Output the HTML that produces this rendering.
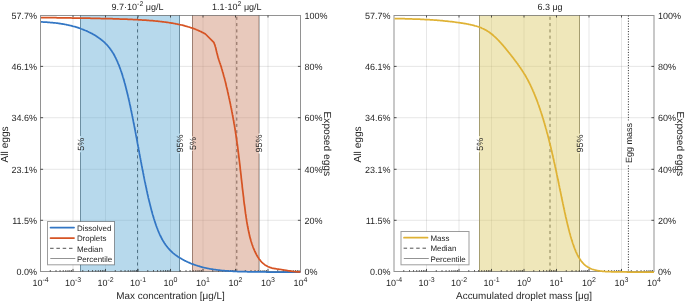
<!DOCTYPE html>
<html><head><meta charset="utf-8"><title>chart</title><style>
html,body{margin:0;padding:0;background:#fff;width:685px;height:302px;overflow:hidden}
svg{display:block;will-change:transform}
</style></head><body>
<svg width="685" height="302" viewBox="0 0 685 302">
<rect width="685" height="302" fill="#fff"/>
<g font-family='"Liberation Sans", sans-serif' fill="#262626" text-rendering="geometricPrecision">
<line x1="73.00" y1="15.50" x2="73.00" y2="271.50" stroke="#262626" stroke-width="1" stroke-opacity="0.11"/>
<line x1="105.50" y1="15.50" x2="105.50" y2="271.50" stroke="#262626" stroke-width="1" stroke-opacity="0.11"/>
<line x1="138.00" y1="15.50" x2="138.00" y2="271.50" stroke="#262626" stroke-width="1" stroke-opacity="0.11"/>
<line x1="170.50" y1="15.50" x2="170.50" y2="271.50" stroke="#262626" stroke-width="1" stroke-opacity="0.11"/>
<line x1="203.00" y1="15.50" x2="203.00" y2="271.50" stroke="#262626" stroke-width="1" stroke-opacity="0.11"/>
<line x1="235.50" y1="15.50" x2="235.50" y2="271.50" stroke="#262626" stroke-width="1" stroke-opacity="0.11"/>
<line x1="268.00" y1="15.50" x2="268.00" y2="271.50" stroke="#262626" stroke-width="1" stroke-opacity="0.11"/>
<line x1="40.5" y1="220.30" x2="300.5" y2="220.30" stroke="#262626" stroke-opacity="0.11" stroke-width="1"/>
<line x1="40.5" y1="169.30" x2="300.5" y2="169.30" stroke="#262626" stroke-opacity="0.11" stroke-width="1"/>
<line x1="40.5" y1="117.70" x2="300.5" y2="117.70" stroke="#262626" stroke-opacity="0.11" stroke-width="1"/>
<line x1="40.5" y1="66.40" x2="300.5" y2="66.40" stroke="#262626" stroke-opacity="0.11" stroke-width="1"/>
<line x1="80.50" y1="15.50" x2="80.50" y2="136.00" stroke="#787878" stroke-width="1"/>
<line x1="80.50" y1="152.30" x2="80.50" y2="271.50" stroke="#787878" stroke-width="1"/>
<line x1="179.50" y1="15.50" x2="179.50" y2="133.60" stroke="#787878" stroke-width="1"/>
<line x1="179.50" y1="153.50" x2="179.50" y2="271.50" stroke="#787878" stroke-width="1"/>
<line x1="192.50" y1="15.50" x2="192.50" y2="136.30" stroke="#787878" stroke-width="1"/>
<line x1="192.50" y1="150.90" x2="192.50" y2="271.50" stroke="#787878" stroke-width="1"/>
<line x1="259.00" y1="15.50" x2="259.00" y2="133.60" stroke="#787878" stroke-width="1"/>
<line x1="259.00" y1="153.50" x2="259.00" y2="271.50" stroke="#787878" stroke-width="1"/>
<line x1="137.50" y1="16.75" x2="137.50" y2="271.50" stroke="#262626" stroke-width="1" stroke-opacity="0.85" stroke-dasharray="3.1 3.2"/>
<line x1="236.80" y1="16.75" x2="236.80" y2="271.50" stroke="#262626" stroke-width="1" stroke-opacity="0.85" stroke-dasharray="3.1 3.2"/>
<rect x="80.00" y="15.50" width="100.00" height="256.00" fill="rgb(95,171,213)" fill-opacity="0.45"/>
<rect x="192.00" y="15.50" width="67.00" height="256.00" fill="rgb(204,135,106)" fill-opacity="0.45"/>
<text transform="translate(83.70,144.15) rotate(-90)" text-anchor="middle" font-size="9">5%</text>
<text transform="translate(182.70,143.55) rotate(-90)" text-anchor="middle" font-size="9">95%</text>
<text transform="translate(195.70,143.60) rotate(-90)" text-anchor="middle" font-size="9">5%</text>
<text transform="translate(262.20,143.55) rotate(-90)" text-anchor="middle" font-size="9">95%</text>
<rect x="40.5" y="15.5" width="260" height="256" fill="none" stroke="#262626" stroke-opacity="0.5" stroke-width="1"/>
<line x1="50.28" y1="271.50" x2="50.28" y2="270.10" stroke="#262626" stroke-width="0.8"/>
<line x1="56.01" y1="271.50" x2="56.01" y2="270.10" stroke="#262626" stroke-width="0.8"/>
<line x1="60.07" y1="271.50" x2="60.07" y2="270.10" stroke="#262626" stroke-width="0.8"/>
<line x1="63.22" y1="271.50" x2="63.22" y2="270.10" stroke="#262626" stroke-width="0.8"/>
<line x1="65.79" y1="271.50" x2="65.79" y2="270.10" stroke="#262626" stroke-width="0.8"/>
<line x1="67.97" y1="271.50" x2="67.97" y2="270.10" stroke="#262626" stroke-width="0.8"/>
<line x1="69.85" y1="271.50" x2="69.85" y2="270.10" stroke="#262626" stroke-width="0.8"/>
<line x1="71.51" y1="271.50" x2="71.51" y2="270.10" stroke="#262626" stroke-width="0.8"/>
<text x="40.50" y="286.3" text-anchor="middle" font-size="9">10<tspan dy="-4.7" font-size="7">-4</tspan></text>
<line x1="73.00" y1="271.50" x2="73.00" y2="268.90" stroke="#262626" stroke-width="0.8"/>
<line x1="73.00" y1="15.50" x2="73.00" y2="17.50" stroke="#262626" stroke-width="0.8"/>
<line x1="82.78" y1="271.50" x2="82.78" y2="270.10" stroke="#262626" stroke-width="0.8"/>
<line x1="88.51" y1="271.50" x2="88.51" y2="270.10" stroke="#262626" stroke-width="0.8"/>
<line x1="92.57" y1="271.50" x2="92.57" y2="270.10" stroke="#262626" stroke-width="0.8"/>
<line x1="95.72" y1="271.50" x2="95.72" y2="270.10" stroke="#262626" stroke-width="0.8"/>
<line x1="98.29" y1="271.50" x2="98.29" y2="270.10" stroke="#262626" stroke-width="0.8"/>
<line x1="100.47" y1="271.50" x2="100.47" y2="270.10" stroke="#262626" stroke-width="0.8"/>
<line x1="102.35" y1="271.50" x2="102.35" y2="270.10" stroke="#262626" stroke-width="0.8"/>
<line x1="104.01" y1="271.50" x2="104.01" y2="270.10" stroke="#262626" stroke-width="0.8"/>
<text x="73.00" y="286.3" text-anchor="middle" font-size="9">10<tspan dy="-4.7" font-size="7">-3</tspan></text>
<line x1="105.50" y1="271.50" x2="105.50" y2="268.90" stroke="#262626" stroke-width="0.8"/>
<line x1="105.50" y1="15.50" x2="105.50" y2="17.50" stroke="#262626" stroke-width="0.8"/>
<line x1="115.28" y1="271.50" x2="115.28" y2="270.10" stroke="#262626" stroke-width="0.8"/>
<line x1="121.01" y1="271.50" x2="121.01" y2="270.10" stroke="#262626" stroke-width="0.8"/>
<line x1="125.07" y1="271.50" x2="125.07" y2="270.10" stroke="#262626" stroke-width="0.8"/>
<line x1="128.22" y1="271.50" x2="128.22" y2="270.10" stroke="#262626" stroke-width="0.8"/>
<line x1="130.79" y1="271.50" x2="130.79" y2="270.10" stroke="#262626" stroke-width="0.8"/>
<line x1="132.97" y1="271.50" x2="132.97" y2="270.10" stroke="#262626" stroke-width="0.8"/>
<line x1="134.85" y1="271.50" x2="134.85" y2="270.10" stroke="#262626" stroke-width="0.8"/>
<line x1="136.51" y1="271.50" x2="136.51" y2="270.10" stroke="#262626" stroke-width="0.8"/>
<text x="105.50" y="286.3" text-anchor="middle" font-size="9">10<tspan dy="-4.7" font-size="7">-2</tspan></text>
<line x1="138.00" y1="271.50" x2="138.00" y2="268.90" stroke="#262626" stroke-width="0.8"/>
<line x1="138.00" y1="15.50" x2="138.00" y2="17.50" stroke="#262626" stroke-width="0.8"/>
<line x1="147.78" y1="271.50" x2="147.78" y2="270.10" stroke="#262626" stroke-width="0.8"/>
<line x1="153.51" y1="271.50" x2="153.51" y2="270.10" stroke="#262626" stroke-width="0.8"/>
<line x1="157.57" y1="271.50" x2="157.57" y2="270.10" stroke="#262626" stroke-width="0.8"/>
<line x1="160.72" y1="271.50" x2="160.72" y2="270.10" stroke="#262626" stroke-width="0.8"/>
<line x1="163.29" y1="271.50" x2="163.29" y2="270.10" stroke="#262626" stroke-width="0.8"/>
<line x1="165.47" y1="271.50" x2="165.47" y2="270.10" stroke="#262626" stroke-width="0.8"/>
<line x1="167.35" y1="271.50" x2="167.35" y2="270.10" stroke="#262626" stroke-width="0.8"/>
<line x1="169.01" y1="271.50" x2="169.01" y2="270.10" stroke="#262626" stroke-width="0.8"/>
<text x="138.00" y="286.3" text-anchor="middle" font-size="9">10<tspan dy="-4.7" font-size="7">-1</tspan></text>
<line x1="170.50" y1="271.50" x2="170.50" y2="268.90" stroke="#262626" stroke-width="0.8"/>
<line x1="170.50" y1="15.50" x2="170.50" y2="17.50" stroke="#262626" stroke-width="0.8"/>
<line x1="180.28" y1="271.50" x2="180.28" y2="270.10" stroke="#262626" stroke-width="0.8"/>
<line x1="186.01" y1="271.50" x2="186.01" y2="270.10" stroke="#262626" stroke-width="0.8"/>
<line x1="190.07" y1="271.50" x2="190.07" y2="270.10" stroke="#262626" stroke-width="0.8"/>
<line x1="193.22" y1="271.50" x2="193.22" y2="270.10" stroke="#262626" stroke-width="0.8"/>
<line x1="195.79" y1="271.50" x2="195.79" y2="270.10" stroke="#262626" stroke-width="0.8"/>
<line x1="197.97" y1="271.50" x2="197.97" y2="270.10" stroke="#262626" stroke-width="0.8"/>
<line x1="199.85" y1="271.50" x2="199.85" y2="270.10" stroke="#262626" stroke-width="0.8"/>
<line x1="201.51" y1="271.50" x2="201.51" y2="270.10" stroke="#262626" stroke-width="0.8"/>
<text x="170.50" y="286.3" text-anchor="middle" font-size="9">10<tspan dy="-4.7" font-size="7">0</tspan></text>
<line x1="203.00" y1="271.50" x2="203.00" y2="268.90" stroke="#262626" stroke-width="0.8"/>
<line x1="203.00" y1="15.50" x2="203.00" y2="17.50" stroke="#262626" stroke-width="0.8"/>
<line x1="212.78" y1="271.50" x2="212.78" y2="270.10" stroke="#262626" stroke-width="0.8"/>
<line x1="218.51" y1="271.50" x2="218.51" y2="270.10" stroke="#262626" stroke-width="0.8"/>
<line x1="222.57" y1="271.50" x2="222.57" y2="270.10" stroke="#262626" stroke-width="0.8"/>
<line x1="225.72" y1="271.50" x2="225.72" y2="270.10" stroke="#262626" stroke-width="0.8"/>
<line x1="228.29" y1="271.50" x2="228.29" y2="270.10" stroke="#262626" stroke-width="0.8"/>
<line x1="230.47" y1="271.50" x2="230.47" y2="270.10" stroke="#262626" stroke-width="0.8"/>
<line x1="232.35" y1="271.50" x2="232.35" y2="270.10" stroke="#262626" stroke-width="0.8"/>
<line x1="234.01" y1="271.50" x2="234.01" y2="270.10" stroke="#262626" stroke-width="0.8"/>
<text x="203.00" y="286.3" text-anchor="middle" font-size="9">10<tspan dy="-4.7" font-size="7">1</tspan></text>
<line x1="235.50" y1="271.50" x2="235.50" y2="268.90" stroke="#262626" stroke-width="0.8"/>
<line x1="235.50" y1="15.50" x2="235.50" y2="17.50" stroke="#262626" stroke-width="0.8"/>
<line x1="245.28" y1="271.50" x2="245.28" y2="270.10" stroke="#262626" stroke-width="0.8"/>
<line x1="251.01" y1="271.50" x2="251.01" y2="270.10" stroke="#262626" stroke-width="0.8"/>
<line x1="255.07" y1="271.50" x2="255.07" y2="270.10" stroke="#262626" stroke-width="0.8"/>
<line x1="258.22" y1="271.50" x2="258.22" y2="270.10" stroke="#262626" stroke-width="0.8"/>
<line x1="260.79" y1="271.50" x2="260.79" y2="270.10" stroke="#262626" stroke-width="0.8"/>
<line x1="262.97" y1="271.50" x2="262.97" y2="270.10" stroke="#262626" stroke-width="0.8"/>
<line x1="264.85" y1="271.50" x2="264.85" y2="270.10" stroke="#262626" stroke-width="0.8"/>
<line x1="266.51" y1="271.50" x2="266.51" y2="270.10" stroke="#262626" stroke-width="0.8"/>
<text x="235.50" y="286.3" text-anchor="middle" font-size="9">10<tspan dy="-4.7" font-size="7">2</tspan></text>
<line x1="268.00" y1="271.50" x2="268.00" y2="268.90" stroke="#262626" stroke-width="0.8"/>
<line x1="268.00" y1="15.50" x2="268.00" y2="17.50" stroke="#262626" stroke-width="0.8"/>
<line x1="277.78" y1="271.50" x2="277.78" y2="270.10" stroke="#262626" stroke-width="0.8"/>
<line x1="283.51" y1="271.50" x2="283.51" y2="270.10" stroke="#262626" stroke-width="0.8"/>
<line x1="287.57" y1="271.50" x2="287.57" y2="270.10" stroke="#262626" stroke-width="0.8"/>
<line x1="290.72" y1="271.50" x2="290.72" y2="270.10" stroke="#262626" stroke-width="0.8"/>
<line x1="293.29" y1="271.50" x2="293.29" y2="270.10" stroke="#262626" stroke-width="0.8"/>
<line x1="295.47" y1="271.50" x2="295.47" y2="270.10" stroke="#262626" stroke-width="0.8"/>
<line x1="297.35" y1="271.50" x2="297.35" y2="270.10" stroke="#262626" stroke-width="0.8"/>
<line x1="299.01" y1="271.50" x2="299.01" y2="270.10" stroke="#262626" stroke-width="0.8"/>
<text x="268.00" y="286.3" text-anchor="middle" font-size="9">10<tspan dy="-4.7" font-size="7">3</tspan></text>
<text x="300.50" y="286.3" text-anchor="middle" font-size="9">10<tspan dy="-4.7" font-size="7">4</tspan></text>
<text x="37.00" y="274.70" text-anchor="end" font-size="9">0.0%</text>
<text x="304.50" y="274.70" text-anchor="start" font-size="9">0%</text>
<line x1="40.5" y1="220.30" x2="43.1" y2="220.30" stroke="#262626" stroke-width="0.8"/>
<line x1="300.5" y1="220.30" x2="297.9" y2="220.30" stroke="#262626" stroke-width="0.8"/>
<text x="37.00" y="223.50" text-anchor="end" font-size="9">11.5%</text>
<text x="304.50" y="223.50" text-anchor="start" font-size="9">20%</text>
<line x1="40.5" y1="169.30" x2="43.1" y2="169.30" stroke="#262626" stroke-width="0.8"/>
<line x1="300.5" y1="169.30" x2="297.9" y2="169.30" stroke="#262626" stroke-width="0.8"/>
<text x="37.00" y="172.50" text-anchor="end" font-size="9">23.1%</text>
<text x="304.50" y="172.50" text-anchor="start" font-size="9">40%</text>
<line x1="40.5" y1="117.70" x2="43.1" y2="117.70" stroke="#262626" stroke-width="0.8"/>
<line x1="300.5" y1="117.70" x2="297.9" y2="117.70" stroke="#262626" stroke-width="0.8"/>
<text x="37.00" y="120.90" text-anchor="end" font-size="9">34.6%</text>
<text x="304.50" y="120.90" text-anchor="start" font-size="9">60%</text>
<line x1="40.5" y1="66.40" x2="43.1" y2="66.40" stroke="#262626" stroke-width="0.8"/>
<line x1="300.5" y1="66.40" x2="297.9" y2="66.40" stroke="#262626" stroke-width="0.8"/>
<text x="37.00" y="69.60" text-anchor="end" font-size="9">46.1%</text>
<text x="304.50" y="69.60" text-anchor="start" font-size="9">80%</text>
<text x="37.00" y="18.70" text-anchor="end" font-size="9">57.7%</text>
<text x="304.50" y="18.70" text-anchor="start" font-size="9">100%</text>
<clipPath id="clip40"><rect x="41.0" y="12.5" width="259.5" height="262"/></clipPath>
<g clip-path="url(#clip40)">
<path d="M40.5,21.8 41.3,21.9 42.1,21.9 42.9,22.0 43.7,22.0 44.5,22.1 45.3,22.1 46.1,22.2 46.9,22.2 47.8,22.3 48.6,22.3 49.4,22.4 50.2,22.5 51.0,22.5 51.8,22.6 52.6,22.7 53.4,22.8 54.2,22.9 55.0,22.9 55.8,23.0 56.6,23.1 57.4,23.2 58.2,23.3 59.0,23.4 59.8,23.6 60.6,23.7 61.4,23.8 62.2,23.9 63.0,24.1 63.8,24.2 64.6,24.3 65.4,24.5 66.2,24.6 67.0,24.8 67.7,25.0 68.5,25.1 69.3,25.3 70.1,25.5 70.9,25.7 71.7,25.9 72.5,26.1 73.2,26.3 74.0,26.5 74.8,26.7 75.6,26.9 76.3,27.2 77.1,27.4 77.9,27.6 78.6,27.9 79.4,28.2 80.2,28.4 80.9,28.7 81.7,29.0 82.4,29.3 83.2,29.6 83.9,29.9 84.7,30.2 85.4,30.5 86.2,30.8 86.9,31.1 87.6,31.5 88.4,31.8 89.1,32.2 89.8,32.5 90.5,32.9 91.3,33.3 92.0,33.6 92.7,34.0 93.4,34.4 94.1,34.8 94.8,35.2 95.5,35.6 96.1,36.1 96.8,36.5 97.5,37.0 98.2,37.4 98.8,37.9 99.5,38.3 100.1,38.8 100.8,39.3 101.4,39.8 102.0,40.3 102.7,40.8 103.3,41.4 103.9,41.9 104.5,42.4 105.1,43.0 105.6,43.6 106.2,44.1 106.8,44.7 107.3,45.3 107.8,45.9 108.4,46.5 108.9,47.2 109.4,47.8 109.9,48.5 110.4,49.1 110.8,49.7 111.3,50.4 111.8,51.1 112.2,51.8 112.6,52.4 113.1,53.1 113.5,53.8 113.9,54.5 114.3,55.3 114.7,56.0 115.0,56.7 115.4,57.4 115.8,58.2 116.1,58.9 116.5,59.6 116.8,60.4 117.2,61.1 117.5,61.8 117.8,62.6 118.1,63.3 118.4,64.1 118.8,64.9 119.1,65.6 119.4,66.4 119.6,67.1 119.9,67.9 120.2,68.7 120.5,69.5 120.8,70.2 121.0,71.0 121.3,71.8 121.6,72.6 121.8,73.4 122.1,74.1 122.3,74.9 122.6,75.7 122.8,76.5 123.0,77.2 123.3,78.0 123.5,78.8 123.7,79.6 124.0,80.4 124.2,81.2 124.4,82.0 124.6,82.8 124.9,83.6 125.1,84.4 125.3,85.2 125.5,86.0 125.7,86.8 125.9,87.6 126.1,88.4 126.3,89.2 126.5,90.0 126.7,90.8 126.9,91.6 127.1,92.4 127.3,93.2 127.5,94.0 127.7,94.8 127.9,95.6 128.1,96.5 128.3,97.3 128.5,98.0 128.6,98.8 128.8,99.6 129.0,100.4 129.2,101.3 129.4,102.1 129.6,102.9 129.7,103.7 129.9,104.6 130.1,105.4 130.3,106.2 130.4,107.0 130.6,107.8 130.8,108.6 130.9,109.4 131.1,110.2 131.3,111.0 131.4,111.8 131.6,112.6 131.8,113.5 132.0,114.3 132.1,115.1 132.3,116.0 132.5,116.8 132.6,117.6 132.8,118.5 133.0,119.3 133.1,120.1 133.3,120.9 133.4,121.7 133.6,122.5 133.7,123.3 133.9,124.1 134.1,124.9 134.2,125.7 134.4,126.5 134.5,127.3 134.7,128.1 134.8,129.0 135.0,129.8 135.2,130.6 135.3,131.4 135.5,132.2 135.6,133.1 135.8,133.9 135.9,134.7 136.1,135.5 136.2,136.4 136.4,137.2 136.6,138.0 136.7,138.8 136.9,139.7 137.0,140.5 137.2,141.3 137.3,142.2 137.5,143.0 137.6,143.9 137.8,144.7 138.0,145.5 138.1,146.4 138.3,147.2 138.4,148.0 138.6,148.9 138.7,149.7 138.9,150.5 139.1,151.4 139.2,152.2 139.4,153.1 139.5,153.9 139.7,154.7 139.8,155.6 140.0,156.4 140.1,157.2 140.3,158.1 140.5,158.9 140.6,159.7 140.8,160.5 140.9,161.4 141.1,162.2 141.2,163.0 141.4,163.8 141.5,164.6 141.7,165.5 141.9,166.3 142.0,167.1 142.2,167.9 142.3,168.7 142.5,169.5 142.6,170.3 142.8,171.1 143.0,171.9 143.1,172.7 143.3,173.5 143.4,174.3 143.6,175.1 143.7,175.9 143.9,176.7 144.1,177.6 144.2,178.4 144.4,179.3 144.6,180.1 144.7,180.9 144.9,181.8 145.1,182.6 145.3,183.4 145.4,184.2 145.6,185.0 145.8,185.8 145.9,186.6 146.1,187.4 146.3,188.2 146.4,189.0 146.6,189.8 146.8,190.7 147.0,191.5 147.2,192.3 147.3,193.1 147.5,194.0 147.7,194.8 147.9,195.6 148.1,196.4 148.2,197.2 148.4,198.0 148.6,198.7 148.8,199.6 149.0,200.4 149.2,201.2 149.4,202.0 149.6,202.8 149.8,203.6 150.0,204.4 150.2,205.2 150.4,206.0 150.6,206.8 150.8,207.6 151.0,208.4 151.2,209.2 151.4,210.0 151.6,210.8 151.8,211.6 152.1,212.4 152.3,213.2 152.5,214.0 152.7,214.7 153.0,215.6 153.2,216.3 153.4,217.1 153.7,217.9 153.9,218.7 154.2,219.5 154.4,220.3 154.7,221.1 154.9,221.9 155.2,222.6 155.4,223.4 155.7,224.2 156.0,225.0 156.2,225.7 156.5,226.5 156.8,227.3 157.1,228.0 157.4,228.8 157.7,229.6 158.0,230.3 158.3,231.1 158.6,231.8 158.9,232.6 159.3,233.3 159.6,234.1 159.9,234.8 160.3,235.6 160.6,236.3 161.0,237.0 161.4,237.7 161.7,238.5 162.1,239.2 162.5,239.9 162.9,240.6 163.3,241.3 163.8,242.0 164.2,242.7 164.6,243.3 165.1,244.0 165.5,244.7 166.0,245.3 166.5,246.0 167.0,246.6 167.5,247.3 168.0,247.9 168.6,248.5 169.1,249.1 169.6,249.7 170.2,250.3 170.8,250.9 171.3,251.4 171.9,252.0 172.5,252.5 173.1,253.1 173.8,253.6 174.4,254.1 175.0,254.6 175.7,255.1 176.3,255.6 177.0,256.0 177.7,256.5 178.3,256.9 179.0,257.4 179.7,257.8 180.4,258.2 181.1,258.6 181.8,259.0 182.5,259.4 183.2,259.8 183.9,260.2 184.6,260.6 185.3,260.9 186.1,261.3 186.8,261.6 187.5,262.0 188.3,262.3 189.0,262.6 189.7,262.9 190.5,263.3 191.2,263.6 192.0,263.9 192.7,264.1 193.5,264.4 194.3,264.7 195.0,265.0 195.8,265.2 196.6,265.5 197.3,265.7 198.1,266.0 198.9,266.2 199.6,266.4 200.4,266.7 201.2,266.9 202.0,267.1 202.8,267.3 203.5,267.5 204.3,267.7 205.1,267.8 205.9,268.0 206.7,268.2 207.5,268.3 208.3,268.5 209.1,268.7 209.9,268.8 210.6,269.0 211.4,269.1 212.2,269.2 213.0,269.3 213.8,269.5 214.6,269.6 215.4,269.7 216.2,269.8 217.0,269.9 217.8,270.0 218.6,270.1 219.4,270.2 220.2,270.3 221.0,270.4 221.8,270.5 222.6,270.5 223.4,270.6 224.3,270.7 225.1,270.8 225.9,270.8 226.7,270.9 227.5,270.9 228.3,271.0 229.1,271.1 229.9,271.1 230.7,271.2 231.5,271.2 232.3,271.2 233.1,271.3 233.9,271.3 234.7,271.4 235.5,271.4 236.3,271.4 237.2,271.5 238.0,271.5 238.8,271.5 239.6,271.6 240.4,271.6 241.2,271.6 242.0,271.6 242.8,271.6 243.6,271.7 244.4,271.7 245.2,271.7 246.0,271.7 246.8,271.7 247.6,271.8 248.4,271.8 249.2,271.8 250.0,271.8 250.9,271.8 251.7,271.8 252.5,271.8 253.3,271.8 254.1,271.9 254.9,271.9 255.7,271.9 256.5,271.9 257.3,271.9 258.1,271.9 258.9,271.9 259.7,271.9 260.5,271.9 261.3,271.9 262.1,271.9 262.9,271.9 263.7,271.9 264.6,271.9 265.4,271.9 266.2,272.0 267.0,272.0 267.8,272.0 268.6,272.0 269.4,272.0 270.2,272.0 271.0,272.0 271.8,272.0 272.6,272.0 273.4,272.0 274.2,272.0 275.0,272.0 275.8,272.0 276.6,272.0 277.5,272.0 278.3,272.0 279.1,272.0 279.9,272.0 280.7,272.0 281.5,272.0 282.3,272.0 283.1,272.0 283.9,272.0 284.7,272.0 285.5,272.0 286.3,272.0 287.1,272.0 287.9,272.0 288.7,272.0 289.5,272.0 290.3,272.0 291.2,272.0 292.0,272.0 292.8,272.0 293.6,272.0 294.4,272.0 295.2,272.0 296.0,272.0 296.8,272.0 297.6,272.0 298.4,272.0 299.2,272.0 300.0,272.0 300.5,272.0" fill="none" stroke="rgb(50,118,196)" stroke-width="1.75" stroke-linejoin="round" stroke-linecap="round"/>
<path d="M40.5,17.6 41.3,17.6 42.1,17.6 43.0,17.6 43.8,17.6 44.6,17.6 45.4,17.6 46.3,17.6 47.1,17.6 47.9,17.6 48.7,17.7 49.6,17.7 50.4,17.7 51.2,17.7 52.0,17.7 52.9,17.7 53.7,17.7 54.5,17.7 55.3,17.7 56.2,17.7 57.0,17.8 57.8,17.8 58.6,17.8 59.5,17.8 60.3,17.8 61.1,17.8 61.9,17.8 62.8,17.8 63.6,17.8 64.4,17.9 65.2,17.9 66.1,17.9 66.9,17.9 67.7,17.9 68.5,17.9 69.4,17.9 70.2,17.9 71.0,17.9 71.8,18.0 72.7,18.0 73.5,18.0 74.3,18.0 75.1,18.0 76.0,18.0 76.8,18.0 77.6,18.0 78.4,18.1 79.3,18.1 80.1,18.1 80.9,18.1 81.7,18.1 82.6,18.1 83.4,18.1 84.2,18.1 85.0,18.2 85.9,18.2 86.7,18.2 87.5,18.2 88.3,18.2 89.2,18.2 90.0,18.2 90.8,18.3 91.6,18.3 92.5,18.3 93.3,18.3 94.1,18.3 94.9,18.3 95.8,18.4 96.6,18.4 97.4,18.4 98.2,18.4 99.1,18.4 99.9,18.4 100.7,18.5 101.5,18.5 102.4,18.5 103.2,18.5 104.0,18.5 104.8,18.5 105.7,18.6 106.5,18.6 107.3,18.6 108.1,18.6 109.0,18.6 109.8,18.7 110.6,18.7 111.4,18.7 112.3,18.7 113.1,18.8 113.9,18.8 114.7,18.8 115.6,18.8 116.4,18.9 117.2,18.9 118.0,18.9 118.9,18.9 119.7,19.0 120.5,19.0 121.3,19.0 122.2,19.0 123.0,19.1 123.8,19.1 124.6,19.1 125.5,19.2 126.3,19.2 127.1,19.2 127.9,19.3 128.8,19.3 129.6,19.3 130.4,19.4 131.2,19.4 132.1,19.4 132.9,19.5 133.7,19.5 134.5,19.6 135.4,19.6 136.2,19.6 137.0,19.7 137.8,19.7 138.7,19.8 139.5,19.8 140.3,19.9 141.1,19.9 142.0,20.0 142.8,20.0 143.6,20.1 144.4,20.1 145.3,20.2 146.1,20.2 146.9,20.3 147.7,20.4 148.6,20.4 149.4,20.5 150.2,20.5 151.0,20.6 151.9,20.7 152.7,20.7 153.5,20.8 154.3,20.9 155.2,21.0 156.0,21.1 156.8,21.1 157.6,21.2 158.5,21.3 159.3,21.4 160.1,21.5 160.9,21.6 161.8,21.7 162.6,21.8 163.4,21.9 164.2,22.0 165.1,22.1 165.9,22.2 166.7,22.3 167.5,22.4 168.4,22.5 169.2,22.7 170.0,22.8 170.8,22.9 171.7,23.1 172.5,23.2 173.3,23.3 174.1,23.5 175.0,23.6 175.8,23.8 176.6,24.0 177.4,24.1 178.3,24.3 179.1,24.5 179.9,24.7 180.7,24.8 181.6,25.0 182.4,25.2 183.2,25.4 184.0,25.6 184.9,25.9 185.7,26.1 186.5,26.3 187.3,26.5 188.2,26.8 189.0,27.0 189.8,27.3 190.6,27.6 191.5,27.8 192.3,28.1 193.1,28.4 193.9,28.7 194.8,29.0 195.6,29.3 196.4,29.7 197.2,30.0 197.9,30.3 198.6,30.6 199.4,30.9 200.1,31.3 200.9,31.6 201.6,32.0 202.3,32.4 203.1,32.7 203.8,33.1 204.6,33.5 205.3,33.9 205.4,34.0 213.8,42.4 214.1,43.1 214.4,43.9 214.7,44.6 215.0,45.4 215.2,46.2 215.4,47.0 215.7,47.7 215.9,48.5 216.0,49.3 216.2,50.1 216.4,50.9 216.6,51.7 216.8,52.5 217.0,53.2 217.2,54.0 217.4,54.8 217.6,55.6 217.8,56.4 218.0,57.2 218.2,57.9 218.5,58.7 218.7,59.5 219.0,60.2 219.2,61.0 219.5,61.8 219.7,62.5 220.0,63.3 220.3,64.1 220.5,64.8 220.8,65.6 221.0,66.4 221.3,67.1 221.5,67.9 221.7,68.7 222.0,69.5 222.2,70.2 222.4,71.0 222.6,71.8 222.9,72.6 223.1,73.3 223.3,74.1 223.5,74.9 223.7,75.7 223.9,76.5 224.2,77.2 224.4,78.0 224.6,78.8 224.8,79.6 225.0,80.4 225.2,81.1 225.4,81.9 225.6,82.7 225.8,83.5 226.0,84.3 226.1,85.1 226.3,85.9 226.5,86.7 226.7,87.4 226.9,88.2 227.1,89.0 227.3,89.8 227.5,90.6 227.6,91.4 227.8,92.2 228.0,93.0 228.2,93.8 228.3,94.6 228.5,95.4 228.7,96.1 228.9,96.9 229.0,97.7 229.2,98.5 229.4,99.3 229.6,100.1 229.7,100.9 229.9,101.7 230.1,102.5 230.2,103.3 230.4,104.1 230.6,104.9 230.7,105.7 230.9,106.4 231.0,107.2 231.2,108.0 231.4,108.8 231.5,109.6 231.7,110.4 231.8,111.2 232.0,112.0 232.1,112.8 232.3,113.6 232.4,114.4 232.6,115.2 232.7,116.0 232.9,116.8 233.0,117.6 233.2,118.4 233.3,119.2 233.5,120.0 233.6,120.8 233.8,121.6 233.9,122.4 234.0,123.2 234.2,124.0 234.3,124.8 234.5,125.6 234.6,126.4 234.7,127.2 234.9,128.0 235.0,128.8 235.1,129.6 235.2,130.4 235.4,131.2 235.5,132.0 235.6,132.8 235.7,133.6 235.9,134.4 236.0,135.2 236.1,136.1 236.2,136.9 236.3,137.7 236.5,138.5 236.6,139.3 236.7,140.1 236.8,140.9 236.9,141.7 237.0,142.5 237.1,143.4 237.3,144.1 237.4,145.0 237.5,145.8 237.6,146.6 237.7,147.4 237.8,148.2 237.9,149.0 238.0,149.8 238.1,150.6 238.2,151.4 238.3,152.3 238.4,153.1 238.5,153.9 238.6,154.7 238.7,155.5 238.8,156.3 238.9,157.1 239.0,157.9 239.1,158.7 239.2,159.5 239.3,160.3 239.4,161.1 239.5,162.0 239.6,162.8 239.7,163.6 239.8,164.4 239.9,165.2 240.0,166.1 240.1,166.9 240.2,167.7 240.2,168.5 240.3,169.3 240.4,170.1 240.5,170.9 240.6,171.7 240.7,172.5 240.8,173.3 240.9,174.1 241.0,175.0 241.1,175.8 241.2,176.6 241.2,177.4 241.3,178.2 241.4,179.0 241.5,179.8 241.6,180.7 241.7,181.5 241.8,182.3 241.9,183.1 242.0,183.9 242.1,184.7 242.2,185.5 242.2,186.3 242.3,187.2 242.4,188.0 242.5,188.8 242.6,189.6 242.7,190.4 242.8,191.2 242.9,192.0 243.0,192.8 243.1,193.6 243.2,194.5 243.3,195.3 243.4,196.1 243.5,196.9 243.6,197.7 243.7,198.5 243.7,199.3 243.8,200.1 243.9,201.0 244.0,201.8 244.1,202.6 244.2,203.4 244.3,204.2 244.4,205.0 244.6,205.8 244.7,206.6 244.8,207.4 244.9,208.2 245.0,209.1 245.1,209.9 245.2,210.7 245.3,211.5 245.4,212.3 245.5,213.1 245.6,213.9 245.8,214.7 245.9,215.5 246.0,216.3 246.1,217.1 246.2,217.9 246.4,218.8 246.5,219.6 246.6,220.4 246.7,221.2 246.9,222.0 247.0,222.8 247.1,223.6 247.3,224.4 247.4,225.2 247.6,226.0 247.7,226.8 247.9,227.5 248.0,228.3 248.2,229.1 248.3,229.9 248.5,230.7 248.7,231.5 248.8,232.3 249.0,233.1 249.2,233.9 249.4,234.7 249.5,235.5 249.7,236.2 249.9,237.0 250.1,237.8 250.3,238.6 250.6,239.4 250.8,240.2 251.0,240.9 251.2,241.7 251.5,242.5 251.7,243.2 252.0,244.0 252.2,244.8 252.5,245.5 252.8,246.3 253.0,247.0 253.3,247.8 253.6,248.5 253.9,249.3 254.3,250.0 254.6,250.8 254.9,251.5 255.3,252.2 255.6,253.0 256.0,253.7 256.4,254.4 256.7,255.1 257.1,255.8 257.5,256.5 258.0,257.2 258.4,257.8 258.8,258.5 259.3,259.2 259.8,259.8 260.3,260.4 260.8,261.1 261.3,261.7 261.9,262.3 262.5,262.8 263.0,263.4 263.7,263.9 264.3,264.4 264.9,264.9 265.6,265.3 266.3,265.7 267.0,266.1 267.7,266.5 268.4,266.8 269.2,267.1 269.9,267.4 270.7,267.6 271.5,267.9 272.2,268.1 273.0,268.3 273.8,268.4 274.6,268.6 275.4,268.7 276.2,268.8 277.0,269.0 277.8,269.1 278.5,269.2 279.3,269.3 280.1,269.4 280.9,269.5 281.7,269.6 282.5,269.8 283.3,269.9 284.1,270.0 284.9,270.1 285.7,270.3 286.5,270.4 287.3,270.5 288.0,270.7 288.8,270.8 289.6,270.9 290.4,271.1 291.2,271.2 292.0,271.3 292.8,271.4 293.6,271.5 294.4,271.6 295.2,271.6 296.0,271.7 296.8,271.8 297.6,271.8 298.4,271.9 299.2,271.9 300.0,271.9 300.5,271.9" fill="none" stroke="rgb(214,84,36)" stroke-width="1.75" stroke-linejoin="round" stroke-linecap="round"/>
</g>
<text transform="translate(7.70,144.40) rotate(-90)" text-anchor="middle" font-size="10.2">All eggs</text>
<text transform="translate(323.80,143.80) rotate(90)" text-anchor="middle" font-size="10.2">Exposed eggs</text>
<text x="170.50" y="299" text-anchor="middle" font-size="9.9">Max concentration [μg/L]</text>
<text x="137.50" y="10" text-anchor="middle" font-size="9">9.7·10<tspan dy="-4.5" font-size="7">-2</tspan><tspan dy="4.5"> μg/L</tspan></text>
<text x="236.80" y="10" text-anchor="middle" font-size="9">1.1·10<tspan dy="-4.5" font-size="7">2</tspan><tspan dy="4.5"> μg/L</tspan></text>
<rect x="47.5" y="221.5" width="67" height="43.3" fill="#fff" stroke="#262626" stroke-opacity="0.45" stroke-width="1"/>
<line x1="50.5" y1="227.5" x2="74.0" y2="227.5" stroke="rgb(50,118,196)" stroke-width="1.75" stroke-linecap="round"/>
<text x="76.9" y="230.7" font-size="7.95">Dissolved</text>
<line x1="50.5" y1="238" x2="74.0" y2="238" stroke="rgb(214,84,36)" stroke-width="1.75" stroke-linecap="round"/>
<text x="76.9" y="241.2" font-size="7.95">Droplets</text>
<line x1="50.1" y1="248.3" x2="75.3" y2="248.3" stroke="#262626" stroke-opacity="0.8" stroke-width="1" stroke-dasharray="3.5 2.8"/>
<text x="76.9" y="251.5" font-size="7.95">Median</text>
<line x1="50.3" y1="258.5" x2="75.3" y2="258.5" stroke="#777" stroke-width="0.8"/>
<text x="76.9" y="261.7" font-size="7.95">Percentile</text>
<line x1="426.50" y1="15.50" x2="426.50" y2="271.50" stroke="#262626" stroke-width="1" stroke-opacity="0.11"/>
<line x1="459.00" y1="15.50" x2="459.00" y2="271.50" stroke="#262626" stroke-width="1" stroke-opacity="0.11"/>
<line x1="491.50" y1="15.50" x2="491.50" y2="271.50" stroke="#262626" stroke-width="1" stroke-opacity="0.11"/>
<line x1="524.00" y1="15.50" x2="524.00" y2="271.50" stroke="#262626" stroke-width="1" stroke-opacity="0.11"/>
<line x1="556.50" y1="15.50" x2="556.50" y2="271.50" stroke="#262626" stroke-width="1" stroke-opacity="0.11"/>
<line x1="589.00" y1="15.50" x2="589.00" y2="271.50" stroke="#262626" stroke-width="1" stroke-opacity="0.11"/>
<line x1="621.50" y1="15.50" x2="621.50" y2="271.50" stroke="#262626" stroke-width="1" stroke-opacity="0.11"/>
<line x1="394.0" y1="220.30" x2="654.0" y2="220.30" stroke="#262626" stroke-opacity="0.11" stroke-width="1"/>
<line x1="394.0" y1="169.30" x2="654.0" y2="169.30" stroke="#262626" stroke-opacity="0.11" stroke-width="1"/>
<line x1="394.0" y1="117.70" x2="654.0" y2="117.70" stroke="#262626" stroke-opacity="0.11" stroke-width="1"/>
<line x1="394.0" y1="66.40" x2="654.0" y2="66.40" stroke="#262626" stroke-opacity="0.11" stroke-width="1"/>
<line x1="479.50" y1="15.50" x2="479.50" y2="136.00" stroke="#787878" stroke-width="1"/>
<line x1="479.50" y1="152.30" x2="479.50" y2="271.50" stroke="#787878" stroke-width="1"/>
<line x1="579.50" y1="15.50" x2="579.50" y2="133.60" stroke="#787878" stroke-width="1"/>
<line x1="579.50" y1="153.50" x2="579.50" y2="271.50" stroke="#787878" stroke-width="1"/>
<line x1="550.00" y1="16.75" x2="550.00" y2="271.50" stroke="#262626" stroke-width="1" stroke-opacity="0.85" stroke-dasharray="3.1 3.2"/>
<line x1="628.40" y1="15.50" x2="628.40" y2="120.40" stroke="#262626" stroke-width="1" stroke-dasharray="1 1.6"/>
<line x1="628.40" y1="165.50" x2="628.40" y2="271.50" stroke="#262626" stroke-width="1" stroke-dasharray="1 1.6"/>
<rect x="479.00" y="15.50" width="101.00" height="256.00" fill="rgb(219,202,102)" fill-opacity="0.45"/>
<text transform="translate(482.70,144.15) rotate(-90)" text-anchor="middle" font-size="9">5%</text>
<text transform="translate(582.70,143.55) rotate(-90)" text-anchor="middle" font-size="9">95%</text>
<text transform="translate(631.6,143) rotate(-90)" text-anchor="middle" font-size="9">Egg mass</text>
<rect x="394.0" y="15.5" width="260" height="256" fill="none" stroke="#262626" stroke-opacity="0.5" stroke-width="1"/>
<line x1="403.78" y1="271.50" x2="403.78" y2="270.10" stroke="#262626" stroke-width="0.8"/>
<line x1="409.51" y1="271.50" x2="409.51" y2="270.10" stroke="#262626" stroke-width="0.8"/>
<line x1="413.57" y1="271.50" x2="413.57" y2="270.10" stroke="#262626" stroke-width="0.8"/>
<line x1="416.72" y1="271.50" x2="416.72" y2="270.10" stroke="#262626" stroke-width="0.8"/>
<line x1="419.29" y1="271.50" x2="419.29" y2="270.10" stroke="#262626" stroke-width="0.8"/>
<line x1="421.47" y1="271.50" x2="421.47" y2="270.10" stroke="#262626" stroke-width="0.8"/>
<line x1="423.35" y1="271.50" x2="423.35" y2="270.10" stroke="#262626" stroke-width="0.8"/>
<line x1="425.01" y1="271.50" x2="425.01" y2="270.10" stroke="#262626" stroke-width="0.8"/>
<text x="394.00" y="286.3" text-anchor="middle" font-size="9">10<tspan dy="-4.7" font-size="7">-4</tspan></text>
<line x1="426.50" y1="271.50" x2="426.50" y2="268.90" stroke="#262626" stroke-width="0.8"/>
<line x1="426.50" y1="15.50" x2="426.50" y2="17.50" stroke="#262626" stroke-width="0.8"/>
<line x1="436.28" y1="271.50" x2="436.28" y2="270.10" stroke="#262626" stroke-width="0.8"/>
<line x1="442.01" y1="271.50" x2="442.01" y2="270.10" stroke="#262626" stroke-width="0.8"/>
<line x1="446.07" y1="271.50" x2="446.07" y2="270.10" stroke="#262626" stroke-width="0.8"/>
<line x1="449.22" y1="271.50" x2="449.22" y2="270.10" stroke="#262626" stroke-width="0.8"/>
<line x1="451.79" y1="271.50" x2="451.79" y2="270.10" stroke="#262626" stroke-width="0.8"/>
<line x1="453.97" y1="271.50" x2="453.97" y2="270.10" stroke="#262626" stroke-width="0.8"/>
<line x1="455.85" y1="271.50" x2="455.85" y2="270.10" stroke="#262626" stroke-width="0.8"/>
<line x1="457.51" y1="271.50" x2="457.51" y2="270.10" stroke="#262626" stroke-width="0.8"/>
<text x="426.50" y="286.3" text-anchor="middle" font-size="9">10<tspan dy="-4.7" font-size="7">-3</tspan></text>
<line x1="459.00" y1="271.50" x2="459.00" y2="268.90" stroke="#262626" stroke-width="0.8"/>
<line x1="459.00" y1="15.50" x2="459.00" y2="17.50" stroke="#262626" stroke-width="0.8"/>
<line x1="468.78" y1="271.50" x2="468.78" y2="270.10" stroke="#262626" stroke-width="0.8"/>
<line x1="474.51" y1="271.50" x2="474.51" y2="270.10" stroke="#262626" stroke-width="0.8"/>
<line x1="478.57" y1="271.50" x2="478.57" y2="270.10" stroke="#262626" stroke-width="0.8"/>
<line x1="481.72" y1="271.50" x2="481.72" y2="270.10" stroke="#262626" stroke-width="0.8"/>
<line x1="484.29" y1="271.50" x2="484.29" y2="270.10" stroke="#262626" stroke-width="0.8"/>
<line x1="486.47" y1="271.50" x2="486.47" y2="270.10" stroke="#262626" stroke-width="0.8"/>
<line x1="488.35" y1="271.50" x2="488.35" y2="270.10" stroke="#262626" stroke-width="0.8"/>
<line x1="490.01" y1="271.50" x2="490.01" y2="270.10" stroke="#262626" stroke-width="0.8"/>
<text x="459.00" y="286.3" text-anchor="middle" font-size="9">10<tspan dy="-4.7" font-size="7">-2</tspan></text>
<line x1="491.50" y1="271.50" x2="491.50" y2="268.90" stroke="#262626" stroke-width="0.8"/>
<line x1="491.50" y1="15.50" x2="491.50" y2="17.50" stroke="#262626" stroke-width="0.8"/>
<line x1="501.28" y1="271.50" x2="501.28" y2="270.10" stroke="#262626" stroke-width="0.8"/>
<line x1="507.01" y1="271.50" x2="507.01" y2="270.10" stroke="#262626" stroke-width="0.8"/>
<line x1="511.07" y1="271.50" x2="511.07" y2="270.10" stroke="#262626" stroke-width="0.8"/>
<line x1="514.22" y1="271.50" x2="514.22" y2="270.10" stroke="#262626" stroke-width="0.8"/>
<line x1="516.79" y1="271.50" x2="516.79" y2="270.10" stroke="#262626" stroke-width="0.8"/>
<line x1="518.97" y1="271.50" x2="518.97" y2="270.10" stroke="#262626" stroke-width="0.8"/>
<line x1="520.85" y1="271.50" x2="520.85" y2="270.10" stroke="#262626" stroke-width="0.8"/>
<line x1="522.51" y1="271.50" x2="522.51" y2="270.10" stroke="#262626" stroke-width="0.8"/>
<text x="491.50" y="286.3" text-anchor="middle" font-size="9">10<tspan dy="-4.7" font-size="7">-1</tspan></text>
<line x1="524.00" y1="271.50" x2="524.00" y2="268.90" stroke="#262626" stroke-width="0.8"/>
<line x1="524.00" y1="15.50" x2="524.00" y2="17.50" stroke="#262626" stroke-width="0.8"/>
<line x1="533.78" y1="271.50" x2="533.78" y2="270.10" stroke="#262626" stroke-width="0.8"/>
<line x1="539.51" y1="271.50" x2="539.51" y2="270.10" stroke="#262626" stroke-width="0.8"/>
<line x1="543.57" y1="271.50" x2="543.57" y2="270.10" stroke="#262626" stroke-width="0.8"/>
<line x1="546.72" y1="271.50" x2="546.72" y2="270.10" stroke="#262626" stroke-width="0.8"/>
<line x1="549.29" y1="271.50" x2="549.29" y2="270.10" stroke="#262626" stroke-width="0.8"/>
<line x1="551.47" y1="271.50" x2="551.47" y2="270.10" stroke="#262626" stroke-width="0.8"/>
<line x1="553.35" y1="271.50" x2="553.35" y2="270.10" stroke="#262626" stroke-width="0.8"/>
<line x1="555.01" y1="271.50" x2="555.01" y2="270.10" stroke="#262626" stroke-width="0.8"/>
<text x="524.00" y="286.3" text-anchor="middle" font-size="9">10<tspan dy="-4.7" font-size="7">0</tspan></text>
<line x1="556.50" y1="271.50" x2="556.50" y2="268.90" stroke="#262626" stroke-width="0.8"/>
<line x1="556.50" y1="15.50" x2="556.50" y2="17.50" stroke="#262626" stroke-width="0.8"/>
<line x1="566.28" y1="271.50" x2="566.28" y2="270.10" stroke="#262626" stroke-width="0.8"/>
<line x1="572.01" y1="271.50" x2="572.01" y2="270.10" stroke="#262626" stroke-width="0.8"/>
<line x1="576.07" y1="271.50" x2="576.07" y2="270.10" stroke="#262626" stroke-width="0.8"/>
<line x1="579.22" y1="271.50" x2="579.22" y2="270.10" stroke="#262626" stroke-width="0.8"/>
<line x1="581.79" y1="271.50" x2="581.79" y2="270.10" stroke="#262626" stroke-width="0.8"/>
<line x1="583.97" y1="271.50" x2="583.97" y2="270.10" stroke="#262626" stroke-width="0.8"/>
<line x1="585.85" y1="271.50" x2="585.85" y2="270.10" stroke="#262626" stroke-width="0.8"/>
<line x1="587.51" y1="271.50" x2="587.51" y2="270.10" stroke="#262626" stroke-width="0.8"/>
<text x="556.50" y="286.3" text-anchor="middle" font-size="9">10<tspan dy="-4.7" font-size="7">1</tspan></text>
<line x1="589.00" y1="271.50" x2="589.00" y2="268.90" stroke="#262626" stroke-width="0.8"/>
<line x1="589.00" y1="15.50" x2="589.00" y2="17.50" stroke="#262626" stroke-width="0.8"/>
<line x1="598.78" y1="271.50" x2="598.78" y2="270.10" stroke="#262626" stroke-width="0.8"/>
<line x1="604.51" y1="271.50" x2="604.51" y2="270.10" stroke="#262626" stroke-width="0.8"/>
<line x1="608.57" y1="271.50" x2="608.57" y2="270.10" stroke="#262626" stroke-width="0.8"/>
<line x1="611.72" y1="271.50" x2="611.72" y2="270.10" stroke="#262626" stroke-width="0.8"/>
<line x1="614.29" y1="271.50" x2="614.29" y2="270.10" stroke="#262626" stroke-width="0.8"/>
<line x1="616.47" y1="271.50" x2="616.47" y2="270.10" stroke="#262626" stroke-width="0.8"/>
<line x1="618.35" y1="271.50" x2="618.35" y2="270.10" stroke="#262626" stroke-width="0.8"/>
<line x1="620.01" y1="271.50" x2="620.01" y2="270.10" stroke="#262626" stroke-width="0.8"/>
<text x="589.00" y="286.3" text-anchor="middle" font-size="9">10<tspan dy="-4.7" font-size="7">2</tspan></text>
<line x1="621.50" y1="271.50" x2="621.50" y2="268.90" stroke="#262626" stroke-width="0.8"/>
<line x1="621.50" y1="15.50" x2="621.50" y2="17.50" stroke="#262626" stroke-width="0.8"/>
<line x1="631.28" y1="271.50" x2="631.28" y2="270.10" stroke="#262626" stroke-width="0.8"/>
<line x1="637.01" y1="271.50" x2="637.01" y2="270.10" stroke="#262626" stroke-width="0.8"/>
<line x1="641.07" y1="271.50" x2="641.07" y2="270.10" stroke="#262626" stroke-width="0.8"/>
<line x1="644.22" y1="271.50" x2="644.22" y2="270.10" stroke="#262626" stroke-width="0.8"/>
<line x1="646.79" y1="271.50" x2="646.79" y2="270.10" stroke="#262626" stroke-width="0.8"/>
<line x1="648.97" y1="271.50" x2="648.97" y2="270.10" stroke="#262626" stroke-width="0.8"/>
<line x1="650.85" y1="271.50" x2="650.85" y2="270.10" stroke="#262626" stroke-width="0.8"/>
<line x1="652.51" y1="271.50" x2="652.51" y2="270.10" stroke="#262626" stroke-width="0.8"/>
<text x="621.50" y="286.3" text-anchor="middle" font-size="9">10<tspan dy="-4.7" font-size="7">3</tspan></text>
<text x="654.00" y="286.3" text-anchor="middle" font-size="9">10<tspan dy="-4.7" font-size="7">4</tspan></text>
<text x="390.50" y="274.70" text-anchor="end" font-size="9">0.0%</text>
<text x="658.00" y="274.70" text-anchor="start" font-size="9">0%</text>
<line x1="394.0" y1="220.30" x2="396.6" y2="220.30" stroke="#262626" stroke-width="0.8"/>
<line x1="654.0" y1="220.30" x2="651.4" y2="220.30" stroke="#262626" stroke-width="0.8"/>
<text x="390.50" y="223.50" text-anchor="end" font-size="9">11.5%</text>
<text x="658.00" y="223.50" text-anchor="start" font-size="9">20%</text>
<line x1="394.0" y1="169.30" x2="396.6" y2="169.30" stroke="#262626" stroke-width="0.8"/>
<line x1="654.0" y1="169.30" x2="651.4" y2="169.30" stroke="#262626" stroke-width="0.8"/>
<text x="390.50" y="172.50" text-anchor="end" font-size="9">23.1%</text>
<text x="658.00" y="172.50" text-anchor="start" font-size="9">40%</text>
<line x1="394.0" y1="117.70" x2="396.6" y2="117.70" stroke="#262626" stroke-width="0.8"/>
<line x1="654.0" y1="117.70" x2="651.4" y2="117.70" stroke="#262626" stroke-width="0.8"/>
<text x="390.50" y="120.90" text-anchor="end" font-size="9">34.6%</text>
<text x="658.00" y="120.90" text-anchor="start" font-size="9">60%</text>
<line x1="394.0" y1="66.40" x2="396.6" y2="66.40" stroke="#262626" stroke-width="0.8"/>
<line x1="654.0" y1="66.40" x2="651.4" y2="66.40" stroke="#262626" stroke-width="0.8"/>
<text x="390.50" y="69.60" text-anchor="end" font-size="9">46.1%</text>
<text x="658.00" y="69.60" text-anchor="start" font-size="9">80%</text>
<text x="390.50" y="18.70" text-anchor="end" font-size="9">57.7%</text>
<text x="658.00" y="18.70" text-anchor="start" font-size="9">100%</text>
<clipPath id="clip394"><rect x="394.5" y="12.5" width="259.5" height="262"/></clipPath>
<g clip-path="url(#clip394)">
<path d="M394.0,18.6 394.8,18.6 395.6,18.6 396.4,18.6 397.2,18.6 398.0,18.6 398.8,18.6 399.6,18.7 400.4,18.7 401.3,18.7 402.1,18.7 402.9,18.7 403.7,18.7 404.5,18.7 405.3,18.8 406.1,18.8 406.9,18.8 407.7,18.8 408.5,18.8 409.3,18.9 410.1,18.9 410.9,18.9 411.7,18.9 412.5,19.0 413.3,19.0 414.1,19.0 415.0,19.0 415.8,19.1 416.6,19.1 417.4,19.1 418.2,19.2 419.0,19.2 419.8,19.2 420.6,19.3 421.4,19.3 422.2,19.3 423.0,19.4 423.8,19.4 424.6,19.5 425.4,19.5 426.2,19.5 427.0,19.6 427.9,19.6 428.7,19.7 429.5,19.7 430.3,19.8 431.1,19.8 431.9,19.9 432.7,19.9 433.5,20.0 434.3,20.1 435.1,20.1 435.9,20.2 436.7,20.2 437.5,20.3 438.3,20.4 439.1,20.4 439.9,20.5 440.7,20.6 441.6,20.6 442.4,20.7 443.2,20.8 444.0,20.9 444.8,21.0 445.6,21.0 446.4,21.1 447.2,21.2 448.0,21.3 448.8,21.4 449.6,21.5 450.4,21.6 451.2,21.7 452.0,21.7 452.8,21.8 453.6,21.9 454.4,22.0 455.3,22.2 456.1,22.3 456.9,22.4 457.6,22.5 458.4,22.6 459.2,22.7 460.0,22.8 460.8,22.9 461.6,23.1 462.4,23.2 463.2,23.3 464.0,23.4 464.8,23.6 465.6,23.7 466.4,23.8 467.2,24.0 468.0,24.1 468.8,24.3 469.5,24.5 470.3,24.6 471.1,24.8 471.9,25.0 472.7,25.2 473.5,25.4 474.3,25.6 475.0,25.8 475.8,26.0 476.6,26.2 477.4,26.5 478.1,26.7 478.9,27.0 479.6,27.2 480.4,27.5 481.2,27.8 481.9,28.2 482.6,28.5 483.4,28.8 484.1,29.2 484.8,29.6 485.5,29.9 486.2,30.3 486.9,30.7 487.6,31.2 488.3,31.6 489.0,32.1 489.6,32.5 490.3,33.0 490.9,33.5 491.6,34.0 492.2,34.5 492.8,35.0 493.4,35.5 494.0,36.1 494.6,36.6 495.2,37.2 495.8,37.7 496.4,38.3 497.0,38.8 497.5,39.4 498.1,40.0 498.7,40.6 499.2,41.2 499.8,41.8 500.3,42.4 500.9,43.0 501.4,43.6 501.9,44.2 502.5,44.8 503.0,45.4 503.5,46.0 504.0,46.6 504.6,47.2 505.1,47.9 505.6,48.5 506.1,49.1 506.6,49.7 507.1,50.4 507.6,51.0 508.1,51.6 508.6,52.3 509.2,52.9 509.7,53.5 510.2,54.2 510.7,54.8 511.2,55.5 511.7,56.1 512.2,56.7 512.7,57.4 513.2,58.0 513.7,58.6 514.1,59.3 514.6,59.9 515.1,60.6 515.6,61.2 516.1,61.9 516.6,62.5 517.1,63.2 517.6,63.8 518.0,64.5 518.5,65.2 519.0,65.8 519.4,66.5 519.9,67.2 520.4,67.8 520.8,68.5 521.3,69.2 521.7,69.8 522.2,70.5 522.6,71.2 523.1,71.9 523.5,72.6 523.9,73.3 524.3,73.9 524.8,74.6 525.2,75.3 525.6,76.0 526.0,76.7 526.4,77.4 526.8,78.2 527.2,78.9 527.6,79.6 528.0,80.3 528.3,81.0 528.7,81.7 529.1,82.5 529.5,83.2 529.8,83.9 530.2,84.7 530.5,85.4 530.9,86.1 531.2,86.9 531.6,87.6 531.9,88.3 532.3,89.1 532.6,89.8 532.9,90.6 533.2,91.3 533.6,92.1 533.9,92.8 534.2,93.6 534.5,94.3 534.8,95.1 535.1,95.9 535.4,96.6 535.7,97.4 536.0,98.2 536.3,98.9 536.6,99.7 536.9,100.4 537.2,101.2 537.5,102.0 537.8,102.8 538.0,103.5 538.3,104.3 538.6,105.0 538.9,105.8 539.1,106.6 539.4,107.4 539.7,108.1 539.9,108.9 540.2,109.7 540.4,110.5 540.7,111.2 541.0,112.0 541.2,112.8 541.5,113.6 541.7,114.4 542.0,115.2 542.2,115.9 542.5,116.7 542.7,117.5 543.0,118.3 543.2,119.1 543.4,119.9 543.7,120.7 543.9,121.4 544.1,122.2 544.4,123.0 544.6,123.8 544.8,124.6 545.0,125.4 545.3,126.2 545.5,127.0 545.7,127.8 545.9,128.5 546.2,129.3 546.4,130.1 546.6,130.9 546.8,131.8 547.0,132.6 547.2,133.4 547.5,134.1 547.7,134.9 547.9,135.7 548.1,136.5 548.3,137.3 548.5,138.1 548.7,138.9 548.9,139.7 549.1,140.6 549.3,141.4 549.5,142.2 549.7,142.9 549.9,143.7 550.1,144.5 550.3,145.3 550.5,146.1 550.7,146.9 550.9,147.7 551.1,148.5 551.3,149.4 551.5,150.2 551.7,151.0 551.9,151.8 552.0,152.6 552.2,153.4 552.4,154.2 552.6,155.0 552.8,155.8 553.0,156.6 553.1,157.4 553.3,158.2 553.5,159.0 553.7,159.8 553.9,160.6 554.0,161.4 554.2,162.2 554.4,163.1 554.6,163.9 554.8,164.7 555.0,165.6 555.1,166.4 555.3,167.2 555.5,168.0 555.7,168.8 555.8,169.6 556.0,170.4 556.2,171.2 556.3,172.0 556.5,172.8 556.7,173.6 556.8,174.4 557.0,175.2 557.2,176.0 557.3,176.8 557.5,177.6 557.7,178.4 557.9,179.2 558.0,180.0 558.2,180.8 558.4,181.7 558.5,182.5 558.7,183.3 558.9,184.1 559.0,184.9 559.2,185.7 559.4,186.6 559.5,187.4 559.7,188.2 559.9,189.0 560.0,189.8 560.2,190.7 560.4,191.5 560.6,192.3 560.7,193.1 560.9,193.9 561.1,194.8 561.2,195.6 561.4,196.4 561.6,197.2 561.7,198.0 561.9,198.8 562.1,199.7 562.2,200.5 562.4,201.3 562.6,202.1 562.8,202.9 562.9,203.7 563.1,204.5 563.3,205.3 563.4,206.1 563.6,206.9 563.8,207.7 563.9,208.5 564.1,209.3 564.3,210.0 564.5,210.9 564.6,211.7 564.8,212.6 565.0,213.4 565.2,214.2 565.4,215.0 565.5,215.8 565.7,216.7 565.9,217.5 566.1,218.3 566.3,219.1 566.5,219.8 566.6,220.6 566.8,221.4 567.0,222.2 567.2,223.1 567.4,223.9 567.6,224.7 567.8,225.5 568.0,226.3 568.2,227.1 568.4,227.9 568.6,228.7 568.8,229.5 569.0,230.3 569.2,231.1 569.4,231.9 569.6,232.7 569.9,233.5 570.1,234.3 570.3,235.1 570.5,235.9 570.7,236.6 571.0,237.5 571.2,238.2 571.4,239.0 571.7,239.8 571.9,240.6 572.2,241.4 572.4,242.2 572.7,243.0 572.9,243.7 573.2,244.5 573.5,245.3 573.7,246.1 574.0,246.8 574.3,247.6 574.6,248.3 574.9,249.1 575.2,249.8 575.5,250.6 575.8,251.4 576.1,252.1 576.5,252.9 576.8,253.6 577.2,254.3 577.5,255.1 577.9,255.8 578.3,256.5 578.7,257.2 579.1,257.9 579.6,258.6 580.0,259.3 580.5,260.0 580.9,260.7 581.4,261.3 581.9,261.9 582.4,262.5 583.0,263.2 583.5,263.7 584.1,264.3 584.7,264.8 585.3,265.4 586.0,265.9 586.6,266.3 587.3,266.8 588.0,267.2 588.7,267.6 589.4,268.0 590.1,268.4 590.9,268.7 591.6,269.0 592.4,269.3 593.1,269.5 593.9,269.7 594.7,270.0 595.5,270.1 596.3,270.3 597.0,270.5 597.8,270.6 598.6,270.8 599.4,270.9 600.2,271.0 601.0,271.1 601.8,271.2 602.6,271.3 603.4,271.3 604.2,271.4 605.1,271.5 605.9,271.5 606.7,271.6 607.5,271.6 608.3,271.6 609.1,271.7 609.9,271.7 610.7,271.7 611.5,271.8 612.3,271.8 613.1,271.8 613.9,271.8 614.7,271.8 615.5,271.9 616.3,271.9 617.1,271.9 618.0,271.9 618.8,271.9 619.6,271.9 620.4,271.9 621.2,271.9 622.0,271.9 622.8,271.9 623.6,271.9 624.4,271.9 625.2,271.9 626.0,271.9 626.8,272.0 627.6,272.0 628.4,272.0 629.2,272.0 630.0,272.0 630.8,272.0 631.7,272.0 632.5,272.0 633.3,272.0 634.1,272.0 634.9,272.0 635.7,272.0 636.5,272.0 637.3,272.0 638.1,272.0 638.9,272.0 639.7,272.0 640.5,272.0 641.3,272.0 642.1,272.0 642.9,272.0 643.7,272.0 644.5,272.0 645.4,272.0 646.2,272.0 647.0,272.0 647.8,272.0 648.6,272.0 649.4,272.0 650.2,272.0 651.0,272.0 651.8,272.0 652.6,272.0 653.4,272.0 654.0,272.0" fill="none" stroke="rgb(223,178,52)" stroke-width="1.75" stroke-linejoin="round" stroke-linecap="round"/>
</g>
<text transform="translate(361.20,144.40) rotate(-90)" text-anchor="middle" font-size="10.2">All eggs</text>
<text transform="translate(677.30,143.80) rotate(90)" text-anchor="middle" font-size="10.2">Exposed eggs</text>
<text x="524.00" y="299" text-anchor="middle" font-size="9.9">Accumulated droplet mass [μg]</text>
<text x="550.00" y="10" text-anchor="middle" font-size="9">6.3 μg</text>
<rect x="401" y="231.5" width="68" height="33.3" fill="#fff" stroke="#262626" stroke-opacity="0.45" stroke-width="1"/>
<line x1="404.0" y1="237.7" x2="427.5" y2="237.7" stroke="rgb(223,178,52)" stroke-width="1.75" stroke-linecap="round"/>
<text x="430.4" y="240.89999999999998" font-size="7.95">Mass</text>
<line x1="403.6" y1="248.2" x2="428.8" y2="248.2" stroke="#262626" stroke-opacity="0.8" stroke-width="1" stroke-dasharray="3.5 2.8"/>
<text x="430.4" y="251.39999999999998" font-size="7.95">Median</text>
<line x1="403.8" y1="258.5" x2="428.8" y2="258.5" stroke="#777" stroke-width="0.8"/>
<text x="430.4" y="261.7" font-size="7.95">Percentile</text>
</g></svg>
</body></html>
